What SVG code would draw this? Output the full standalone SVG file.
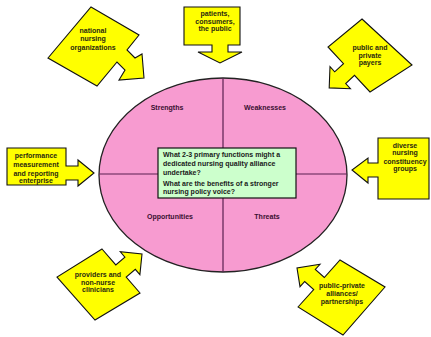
<svg xmlns="http://www.w3.org/2000/svg" width="431" height="337" viewBox="0 0 431 337">
<style>
.co{fill:#FFFF00;stroke:#111;stroke-width:1.1;stroke-linejoin:miter}
.t{font-family:"Liberation Sans",Arial,sans-serif;font-size:7px;font-weight:bold;fill:#2a2a10;text-anchor:middle}
.q{font-family:"Liberation Sans",Arial,sans-serif;font-size:7px;font-weight:bold;fill:#1a1a1a}
.lb{font-family:"Liberation Sans",Arial,sans-serif;font-size:7px;font-weight:bold;fill:#3a1030;text-anchor:middle}
</style>
<rect width="431" height="337" fill="#fff"/>
<g id="swot">
<ellipse cx="223" cy="175" rx="124" ry="97" fill="#F79BD0" stroke="#222" stroke-width="1.3"/>
<line x1="223" y1="78" x2="223" y2="272" stroke="#5a2050" stroke-width="1.2"/>
<line x1="99" y1="174" x2="347" y2="174" stroke="#5a2050" stroke-width="1.2"/>
<text class="lb" x="167" y="110">Strengths</text>
<text class="lb" x="265" y="110">Weaknesses</text>
<text class="lb" x="170" y="219">Opportunities</text>
<text class="lb" x="267" y="219">Threats</text>
</g>
<g id="question">
<rect x="158" y="148" width="138" height="50" fill="#CCFFCC" stroke="#111" stroke-width="1.2"/>
<text class="q" x="163" y="156.5">What 2-3 primary functions might a</text>
<text class="q" x="163" y="165.5">dedicated nursing quality alliance</text>
<text class="q" x="163" y="174.5">undertake?</text>
<text class="q" x="163" y="185.5">What are the benefits of a stronger</text>
<text class="q" x="163" y="194">nursing policy voice?</text>
</g>
<g id="national">
<polygon class="co" points="91,7 139,35 127,50 135,58 142,54 144,78 119,80 125,70 117,62 97,86 48,58"/>
<text class="t" x="93" y="32.5">national</text>
<text class="t" x="93" y="41">nursing</text>
<text class="t" x="93" y="49.5">organizations</text>
</g>
<g id="patients">
<polygon class="co" points="184,7 240,7 240,45 228,45 228,52 242,52 220,63 198,52 212,52 212,45 184,45"/>
<text class="t" x="215" y="16">patients,</text>
<text class="t" x="215" y="23.5">consumers,</text>
<text class="t" x="215" y="31">the public</text>
</g>
<g id="payers">
<polygon class="co" points="362,19 412,65 370,92 354.5,75.4 345.7,83.6 350.4,88.7 329.2,87.9 330,66.7 334.7,71.8 343.5,63.6 328,47"/>
<text class="t" x="370" y="50">public and</text>
<text class="t" x="370" y="57.5">private</text>
<text class="t" x="370" y="65">payers</text>
</g>
<g id="performance">
<polygon class="co" points="7,148 66,148 66,166 78,166 78,160 94,173 78,186 78,180 66,180 66,185 7,185"/>
<text class="t" x="36" y="157.5">performance</text>
<text class="t" x="36" y="166.5">measurement</text>
<text class="t" x="36" y="175.5">and reporting</text>
<text class="t" x="36" y="183">enterprise</text>
</g>
<g id="diverse">
<polygon class="co" points="429,138 378,138 378,163 368,163 368,158 352,170 368,183 368,177 378,177 378,199 429,199"/>
<text class="t" x="405" y="147.5">diverse</text>
<text class="t" x="405" y="155">nursing</text>
<text class="t" x="405" y="163.5">constituency</text>
<text class="t" x="405" y="171">groups</text>
</g>
<g id="providers">
<polygon class="co" points="102,249 115.8,264.9 124.9,257.1 120.3,251.8 142,254 139.9,274.6 135.3,269.3 126.2,277.1 140,293 95,320 57,277"/>
<text class="t" x="98" y="276.5">providers and</text>
<text class="t" x="98" y="284.5">non-nurse</text>
<text class="t" x="98" y="292">clinicians</text>
</g>
<g id="alliances">
<polygon class="co" points="298,307 313.7,289.5 304.7,281.5 300,286.7 297,268 320,264.3 315.3,269.5 324.3,277.5 340,260 385,287 343,335"/>
<text class="t" x="342" y="287.5">public-private</text>
<text class="t" x="342" y="296">alliances/</text>
<text class="t" x="342" y="303.5">partnerships</text>
</g>
<g id="connectors"></g>
</svg>
